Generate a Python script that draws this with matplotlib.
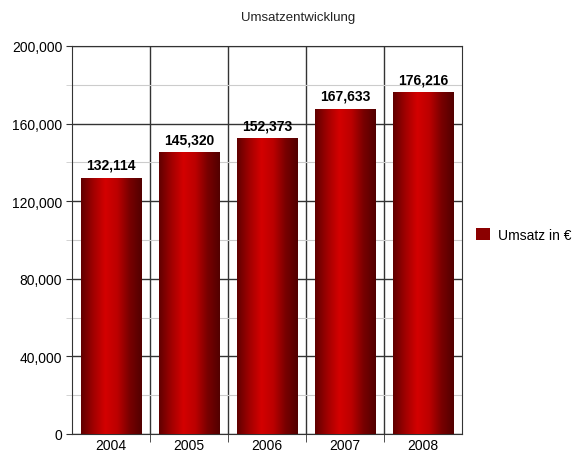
import numpy as np
import matplotlib.pyplot as plt
from matplotlib.colors import LinearSegmentedColormap
from matplotlib.patches import Patch
from matplotlib.ticker import MultipleLocator, FuncFormatter

plt.rcParams['font.family'] = ['Liberation Sans', 'DejaVu Sans']

years = ['2004', '2005', '2006', '2007', '2008']
umsatz = [132114, 145320, 152373, 167633, 176216]
series_name = 'Umsatz in €'

# cylinder-like shading across each bar
shade = LinearSegmentedColormap.from_list(
    'bar', ['#600000', '#a00000', '#d40000', '#bb0000', '#780000', '#520000'])

fig = plt.figure(figsize=(5.74, 4.52), dpi=100)
ax = fig.add_axes([72 / 574, 17 / 452, 390 / 574, 388 / 452])

x = np.arange(len(years))
width = 0.78
bars = ax.bar(x, umsatz, width=width, color='none', edgecolor='none', zorder=3)

grad = np.linspace(0, 1, 256).reshape(1, -1)
for b, v in zip(bars, umsatz):
    x0 = b.get_x()
    im = ax.imshow(grad, cmap=shade, aspect='auto', zorder=3,
                   extent=(x0, x0 + b.get_width(), 0, v), interpolation='bicubic')
    im.set_clip_path(b)
    ax.text(b.get_x() + b.get_width() / 2, v + 3000, f'{v:,}',
            ha='center', va='bottom', fontsize=10, fontweight='bold', zorder=4)

ax.set_xlim(-0.5, len(years) - 0.5)
ax.set_ylim(0, 200000)

ax.yaxis.set_major_locator(MultipleLocator(40000))
ax.yaxis.set_minor_locator(MultipleLocator(20000))
ax.yaxis.set_major_formatter(FuncFormatter(lambda v, p: f'{int(v):,}'))
ax.grid(True, which='major', axis='y', color='#333333', linewidth=1.0, zorder=1)
ax.grid(True, which='minor', axis='y', color='#cccccc', linewidth=0.8, zorder=1)

# category separators
ax.set_xticks(x)
ax.set_xticklabels(years, fontsize=10)
ax.set_xticks(np.arange(0.5, len(years) - 0.5), minor=True)
ax.grid(True, which='minor', axis='x', color='#333333', linewidth=1.0, zorder=1)
ax.tick_params(axis='x', which='major', length=0, pad=3)
ax.tick_params(axis='x', which='minor', length=6, color='#333333')
ax.tick_params(axis='y', which='major', length=4, pad=3, color='#333333', labelsize=10)
ax.tick_params(axis='y', which='minor', length=4, color='#cccccc')
ax.set_axisbelow(True)

for s in ax.spines.values():
    s.set_color('#333333')

fig.text(298 / 574, 1 - 18 / 452, 'Umsatzentwicklung', ha='center', va='center', fontsize=9.5,
         color='#222222')

fig.legend(handles=[Patch(facecolor='#8b0000', edgecolor='none', label=series_name)],
           loc='center left', bbox_to_anchor=(476 / 574, 1 - 236 / 452), frameon=False,
           borderpad=0, borderaxespad=0,
           fontsize=10, handlelength=1.0, handleheight=1.0, handletextpad=0.6)

fig.savefig('out.png', dpi=100)
